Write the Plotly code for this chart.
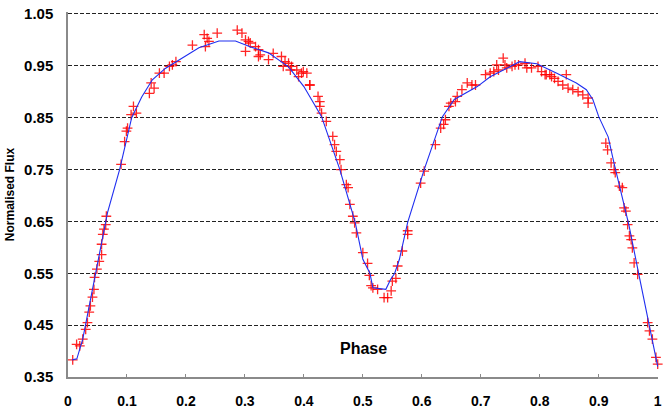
import plotly.graph_objects as go

# Model light curve (blue line)
model_phase = [0.007, 0.015, 0.025, 0.034, 0.045, 0.067, 0.0875, 0.108, 0.125, 0.143, 0.165, 0.189,
               0.222, 0.256, 0.284, 0.311, 0.34, 0.374, 0.40, 0.43, 0.461, 0.487, 0.50, 0.512, 0.517,
               0.539, 0.547, 0.554, 0.562, 0.576, 0.604, 0.635, 0.655, 0.694, 0.716, 0.766, 0.795,
               0.828, 0.862, 0.879, 0.89, 0.90, 0.916, 0.926, 0.951, 0.968, 0.985, 0.993, 1.0]
model_flux = [0.383, 0.385, 0.423, 0.475, 0.538, 0.667, 0.75, 0.85, 0.89, 0.923, 0.945, 0.962,
              0.985, 0.998, 0.998, 0.986, 0.975, 0.948, 0.91, 0.852, 0.75, 0.648, 0.577, 0.55, 0.522,
              0.519, 0.538, 0.55, 0.577, 0.648, 0.75, 0.852, 0.885, 0.91, 0.929, 0.958, 0.954,
              0.936, 0.917, 0.904, 0.885, 0.852, 0.813, 0.762, 0.644, 0.548, 0.452, 0.404, 0.37]

# Observed points (red crosses)
obs_phase = [0.008, 0.0146, 0.02, 0.025, 0.030, 0.033, 0.036, 0.038, 0.0415, 0.044,
             0.045, 0.049, 0.053, 0.057, 0.057, 0.059, 0.061, 0.064, 0.065, 0.09,
             0.096, 0.099, 0.101, 0.107, 0.111, 0.116, 0.141, 0.146, 0.138, 0.155,
             0.163, 0.172, 0.177, 0.183,
             0.211, 0.231, 0.236, 0.239, 0.233, 0.253, 0.287, 0.295, 0.301, 0.306,
             0.309, 0.301, 0.318, 0.323, 0.326, 0.323, 0.348, 0.34, 0.362, 0.368,
             0.374, 0.365, 0.379, 0.377, 0.388, 0.399, 0.391, 0.405, 0.41,
             0.396, 0.41, 0.424, 0.427, 0.427, 0.43, 0.438, 0.449, 0.452, 0.455,
             0.461, 0.463, 0.472, 0.475, 0.478, 0.483, 0.486, 0.489, 0.5,
             0.508, 0.511, 0.514, 0.517, 0.525, 0.536, 0.542, 0.548, 0.55, 0.556,
             0.559, 0.567,
             0.576, 0.576, 0.598, 0.604, 0.623, 0.632, 0.637, 0.64, 0.646, 0.649,
             0.657, 0.66, 0.668, 0.677, 0.685, 0.691,
             0.708, 0.716, 0.722, 0.73, 0.727, 0.738, 0.741, 0.744, 0.753, 0.758,
             0.764, 0.775, 0.778, 0.786, 0.797, 0.803, 0.809, 0.817, 0.825,
             0.811, 0.82, 0.831, 0.839, 0.848, 0.856, 0.865, 0.873, 0.882, 0.882,
             0.845, 0.912, 0.915,
             0.921, 0.926, 0.928, 0.935, 0.94, 0.943, 0.946, 0.949, 0.952, 0.955,
             0.957, 0.96, 0.966, 0.983, 0.986, 0.991, 0.997, 1.0]
obs_flux = [0.383, 0.413, 0.41, 0.423, 0.442, 0.455, 0.475, 0.487, 0.504, 0.519,
            0.542, 0.558, 0.573, 0.586, 0.606, 0.625, 0.635, 0.644, 0.66, 0.76,
            0.804, 0.824, 0.83, 0.856, 0.872, 0.859, 0.917, 0.907, 0.897, 0.936,
            0.936, 0.949, 0.952, 0.958,
            0.99, 1.01, 1.003, 0.997, 0.987, 1.013, 1.019, 1.013, 1.0, 0.997,
            0.994, 0.978, 0.987, 0.981, 0.971, 0.968, 0.974, 0.962, 0.968, 0.958,
            0.955, 0.949, 0.949, 0.942, 0.942, 0.939, 0.929, 0.936, 0.913,
            0.936, 0.913, 0.891, 0.881, 0.872, 0.859, 0.843, 0.814, 0.798, 0.785,
            0.769, 0.75, 0.721, 0.715, 0.683, 0.66, 0.647, 0.628, 0.59,
            0.569, 0.546, 0.526, 0.522, 0.519, 0.503, 0.503, 0.516, 0.535, 0.54,
            0.564, 0.593,
            0.625, 0.632, 0.724, 0.747, 0.798, 0.83, 0.837, 0.846, 0.872, 0.878,
            0.881, 0.891, 0.904, 0.917, 0.913, 0.913,
            0.933, 0.936, 0.939, 0.942, 0.952, 0.965, 0.952, 0.946, 0.949, 0.952,
            0.952, 0.955, 0.946, 0.946, 0.949, 0.939, 0.933, 0.933, 0.926,
            0.933, 0.929, 0.92, 0.913, 0.907, 0.904, 0.9, 0.894, 0.888, 0.878,
            0.933, 0.801, 0.788,
            0.763, 0.75, 0.744, 0.718, 0.715, 0.676, 0.67, 0.644, 0.622, 0.615,
            0.599, 0.57, 0.548, 0.455, 0.439, 0.423, 0.388, 0.375]

y_ticks = [0.35, 0.45, 0.55, 0.65, 0.75, 0.85, 0.95, 1.05]
x_ticks = [0, 0.1, 0.2, 0.3, 0.4, 0.5, 0.6, 0.7, 0.8, 0.9, 1]
x_tick_text = ["0", "0.1", "0.2", "0.3", "0.4", "0.5", "0.6", "0.7", "0.8", "0.9", "1"]

fig = go.Figure()
fig.add_trace(go.Scatter(
    x=obs_phase, y=obs_flux, mode="markers",
    marker=dict(symbol="cross-thin", size=7, color="red",
                line=dict(color="rgba(255,0,0,0.85)", width=1.3)),
    showlegend=False, hoverinfo="x+y", cliponaxis=False))
fig.add_trace(go.Scatter(
    x=model_phase, y=model_flux, mode="lines",
    line=dict(color="#1f2ef0", width=1.1),
    showlegend=False))

font_family = "Liberation Sans, Arial, sans-serif"
fig.update_layout(
    width=665, height=412,
    margin=dict(l=68, r=3, t=12, b=34),
    paper_bgcolor="white", plot_bgcolor="white",
    font=dict(family=font_family, color="black"),
    xaxis=dict(range=[0, 1.0005], tickvals=x_ticks, ticktext=x_tick_text,
               showgrid=False, zeroline=False,
               showline=True, linecolor="#8a8a8a", linewidth=1.5,
               ticks="inside", ticklen=3, tickcolor="#8a8a8a",
               tickfont=dict(size=14, family=font_family, weight="bold"),
               ticklabelstandoff=10, ticklabeloverflow="allow"),
    yaxis=dict(range=[0.35, 1.0538], tickvals=y_ticks, tickformat=".2f",
               showgrid=True, gridcolor="#222", gridwidth=1, griddash="4px,2px",
               zeroline=False,
               showline=True, linecolor="#8a8a8a", linewidth=1.5,
               ticks="", tickfont=dict(size=15, family=font_family, weight="bold"),
               ticklabelstandoff=10, ticklabeloverflow="allow",
               title=dict(text="Normalised Flux", standoff=7,
                          font=dict(size=12, family=font_family, weight="bold"))),
)
fig.add_annotation(x=0.5, y=0.049, xref="paper", yref="paper",
                   text="Phase", showarrow=False,
                   font=dict(size=16, family=font_family, weight="bold"))

fig.write_html("out.html")
